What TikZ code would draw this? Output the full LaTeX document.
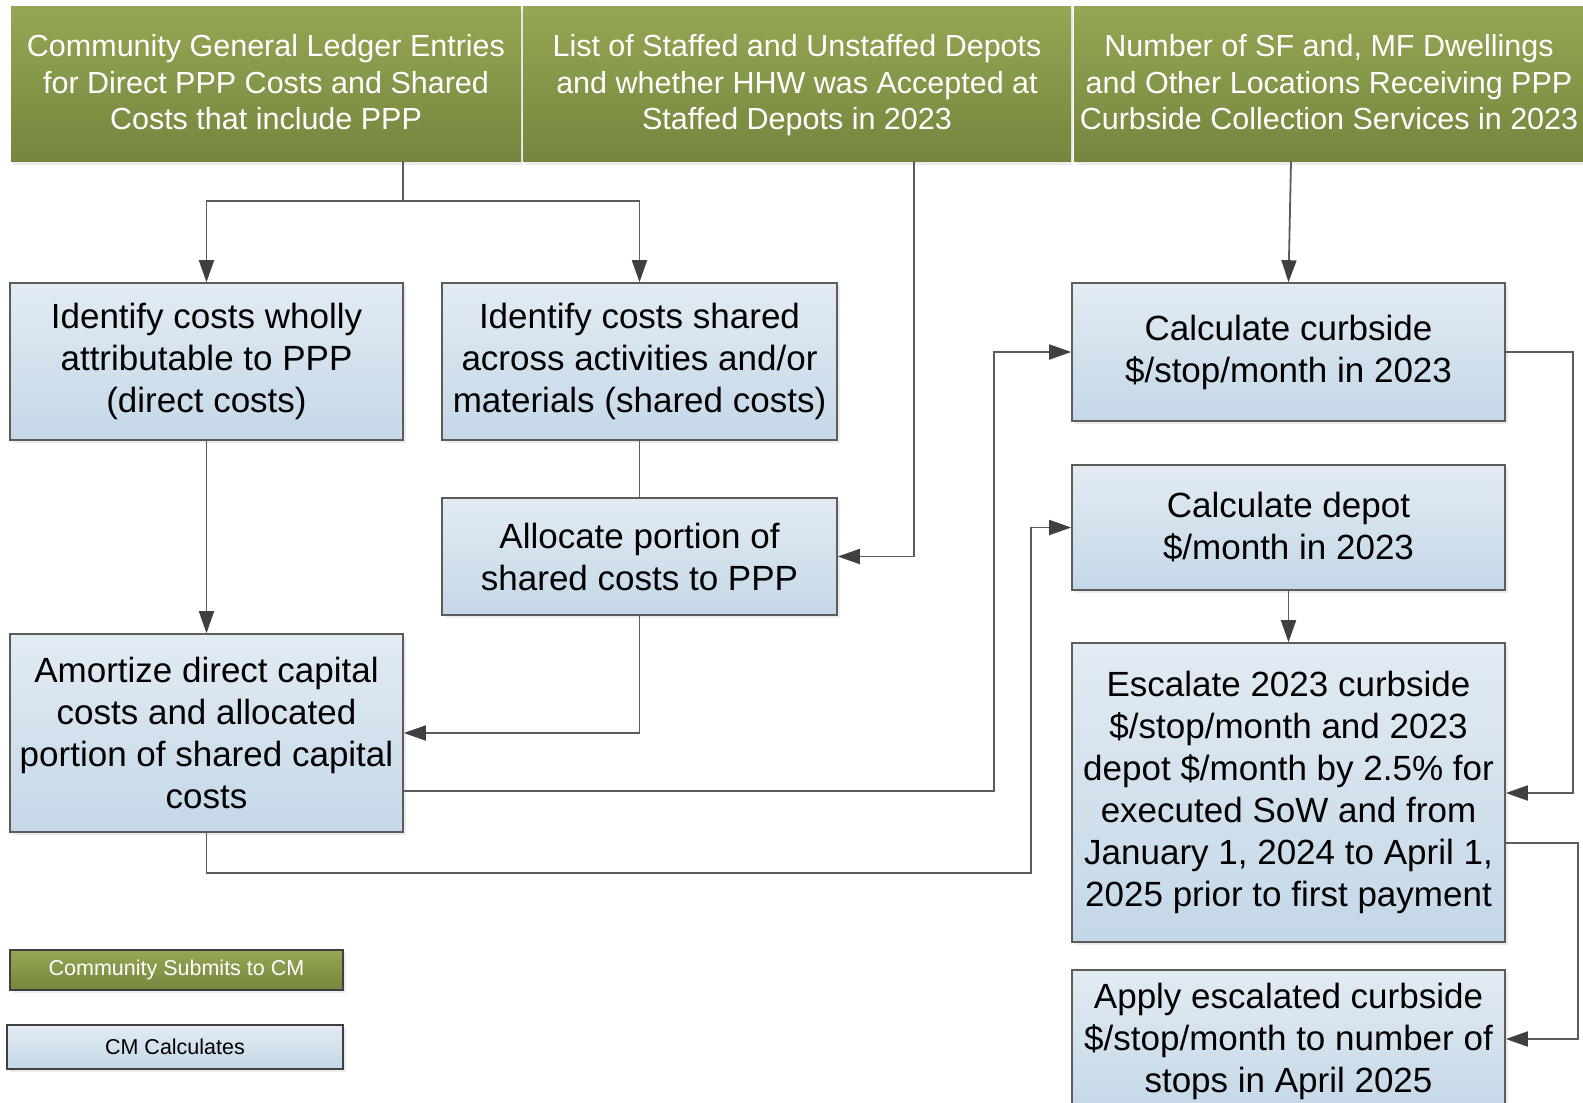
\documentclass[tikz,border=0pt]{standalone}
\usepackage{fontspec}
\setmainfont{Liberation Sans}
\usetikzlibrary{arrows.meta,shadows}
\definecolor{gtop}{RGB}{149,167,84}
\definecolor{gbot}{RGB}{117,134,62}
\definecolor{btop}{RGB}{227,235,243}
\definecolor{bbot}{RGB}{196,215,232}
\definecolor{edgec}{RGB}{92,92,92}
\definecolor{tipc}{RGB}{64,64,64}
\newcommand{\topstrut}{\rule{0pt}{30.6pt}}
\tikzset{
  topbox/.style={shape=rectangle, top color=gtop, bottom color=gbot, draw=none,
    text=white, align=center, inner sep=0pt,
    font=\fontsize{30.5pt}{36.6pt}\selectfont,
    drop shadow={opacity=0.15, shadow xshift=2pt, shadow yshift=-4pt}},
  calcbox/.style={shape=rectangle, top color=btop, bottom color=bbot, draw=edgec,
    line width=1.6pt, text=black, align=center, inner sep=0pt,
    font=\fontsize{35pt}{42pt}\selectfont,
    drop shadow={opacity=0.15, shadow xshift=3pt, shadow yshift=-3pt}},
  leggreen/.style={shape=rectangle, top color=gtop, bottom color=gbot, draw=tipc,
    line width=1.6pt, text=white, align=center, inner sep=0pt,
    font=\fontsize{21.5pt}{26pt}\selectfont,
    drop shadow={opacity=0.15, shadow xshift=3pt, shadow yshift=-3pt}},
  legblue/.style={shape=rectangle, top color=btop, bottom color=bbot, draw=tipc,
    line width=1.6pt, text=black, align=center, inner sep=0pt,
    font=\fontsize{21.5pt}{26pt}\selectfont,
    drop shadow={opacity=0.15, shadow xshift=3pt, shadow yshift=-3pt}},
  conn/.style={draw=edgec, line width=1.8pt},
  arr/.style={conn, -{Triangle[length=22pt,width=15pt,color=tipc]}}
}
\begin{document}
\begin{tikzpicture}[x=1pt,y=-1pt]
\useasboundingbox (0,0) rectangle (1583,1103);
\fill[white] (0,0) rectangle (1583,1103);
\clip (0,0) rectangle (1583,1103);

% top (community submits) boxes
\node[topbox, minimum width=510pt, minimum height=155pt] (T1) at (266,83.5)
  {\topstrut Community General Ledger Entries\\for Direct PPP Costs and Shared\\Costs that include PPP\strut};
\node[topbox, minimum width=548pt, minimum height=155pt] (T2) at (797,83.5)
  {\topstrut List of Staffed and Unstaffed Depots\\and whether HHW was Accepted at\\Staffed Depots in 2023\strut};
\node[topbox, minimum width=510pt, minimum height=155pt] (T3) at (1329,83.5)
  {\topstrut Number of SF and, MF Dwellings\\and Other Locations Receiving PPP\\Curbside Collection Services in 2023\strut};

% calculation boxes
\node[calcbox, minimum width=393pt, minimum height=157pt] (B1) at (206.5,361.5)
  {Identify costs wholly\\attributable to PPP\\(direct costs)};
\node[calcbox, minimum width=395pt, minimum height=157pt] (B2) at (639.5,361.5)
  {Identify costs shared\\across activities and/or\\materials (shared costs)};
\node[calcbox, minimum width=395pt, minimum height=117pt] (B3) at (639.5,556.5)
  {Allocate portion of\\shared costs to PPP};
\node[calcbox, minimum width=393pt, minimum height=198pt] (B4) at (206.5,733)
  {Amortize direct capital\\costs and allocated\\portion of shared capital\\costs};
\node[calcbox, minimum width=433pt, minimum height=138pt] (B5) at (1288.5,352)
  {Calculate curbside\\\$/stop/month in 2023};
\node[calcbox, minimum width=433pt, minimum height=125pt] (B6) at (1288.5,527.5)
  {Calculate depot\\\$/month in 2023};
\node[calcbox, minimum width=433pt, minimum height=299pt] (B7) at (1288.5,792.5)
  {Escalate 2023 curbside\\\$/stop/month and 2023\\depot \$/month by 2.5\% for\\executed SoW and from\\January 1, 2024 to April 1,\\2025 prior to first payment};
\node[calcbox, minimum width=433pt, minimum height=143pt] (B8) at (1288.5,1041.5)
  {Apply escalated curbside\\\$/stop/month to number of\\stops in April 2025};

% legend
\node[leggreen, minimum width=333pt, minimum height=40pt] (L1) at (176.5,970)
  {Community Submits to CM};
\node[legblue, minimum width=336pt, minimum height=44pt] (L2) at (175,1047)
  {CM Calculates};

% helper coordinates
\coordinate (j1) at (403,201);
\coordinate (k2) at (914,0);
\coordinate (k3) at (1291,0);
\coordinate (k7) at (994,791);
\coordinate (k8) at (1031,873);
\coordinate (k9) at (1573,793);
\coordinate (k11a) at (1578,843);
\coordinate (k11b) at (1578,1039);

% connectors
\draw[conn] (T1.south -| j1) -- (j1);
\draw[arr] (j1) -| (B1.north);
\draw[arr] (j1) -| (B2.north);
\draw[arr] (T2.south -| k2) |- (B3.east);
\draw[arr] (T3.south -| k3) -- (B5.north);
\draw[arr] (B1.south) -- (B4.north);
\draw[conn] (B2.south) -- (B3.north);
\draw[arr] (B3.south) |- (B4.east);
\draw[arr] (B4.east |- k7) -- (k7) |- (B5.west);
\draw[arr] (B4.south) |- (k8) |- (B6.west);
\draw[arr] (B5.east) -| (k9) -- (B7.east |- k9);
\draw[arr] (B6.south) -- (B7.north);
\draw[arr] (B7.east |- k11a) -- (k11a) -- (k11b) -- (B8.east |- k11b);
\end{tikzpicture}
\end{document}
